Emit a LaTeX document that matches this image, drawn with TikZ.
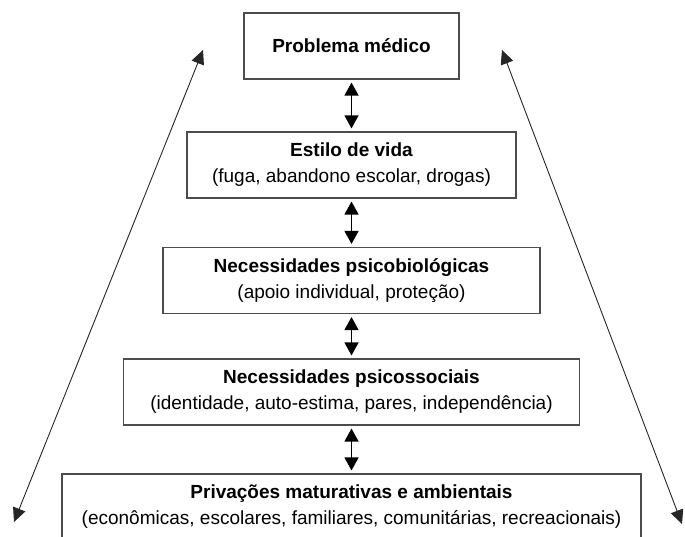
\documentclass[tikz,border=0pt]{standalone}
\usepackage{fontspec}
\setmainfont{Liberation Sans}
\usetikzlibrary{arrows.meta}

\begin{document}
\begin{tikzpicture}[x=1pt,y=-1pt,
    caixa/.style={draw=black!70, line width=1.1pt, minimum height=66pt, inner sep=0pt,
        align=center, font=\fontsize{19}{26}\selectfont},
    seta/.style={{Triangle[length=13pt,width=14pt]}-{Triangle[length=13pt,width=14pt]},
        line width=1.3pt, shorten <=3pt, shorten >=3pt},
    lado/.style={{Triangle[length=14pt,width=13pt]}-{Triangle[length=14pt,width=13pt]},
        line width=0.9pt, black!85}]
    \useasboundingbox (0,0) rectangle (685,537);
    \clip (0,0) rectangle (685,537);

    % Boxes
    \node[caixa, minimum width=215pt] (medico) at (351.5,46) {\textbf{Problema médico}};
    \node[caixa, minimum width=329pt] (estilo) at (351.5,165)
        {\textbf{Estilo de vida}\\(fuga, abandono escolar, drogas)};
    \node[caixa, minimum width=377pt] (biol) at (351.5,280.5)
        {\textbf{Necessidades psicobiológicas}\\(apoio individual, proteção)};
    \node[caixa, minimum width=456pt] (social) at (351.5,392)
        {\textbf{Necessidades psicossociais}\\(identidade, auto-estima, pares, independência)};
    \node[caixa, minimum width=579pt] (privacao) at (351.5,507)
        {\textbf{Privações maturativas e ambientais}\\(econômicas, escolares, familiares, comunitárias, recreacionais)};

    % Arrows between boxes
    \foreach \a/\b in {medico/estilo, estilo/biol, biol/social, social/privacao} {
        \draw[seta] (\a.south) -- (\b.north);
    }

    % Side arrows
    \coordinate (esqTopo) at (203,50);
    \coordinate (esqBase) at (14,522);
    \coordinate (dirTopo) at (502,50);
    \coordinate (dirBase) at (682,524);
    \draw[lado] (esqBase) -- (esqTopo);
    \draw[lado] (dirBase) -- (dirTopo);

\end{tikzpicture}
\end{document}
